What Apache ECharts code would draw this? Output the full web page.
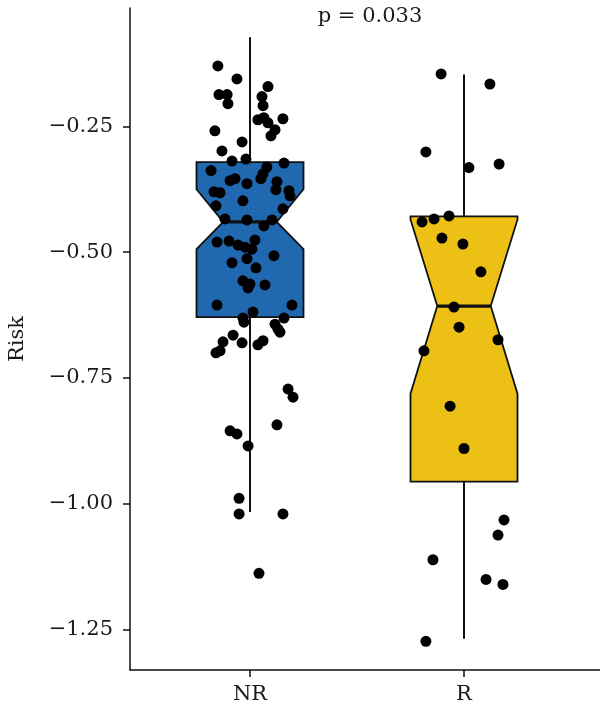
<!DOCTYPE html>
<html>
<head>
<meta charset="utf-8">
<script src="https://cdn.jsdelivr.net/npm/echarts@6/dist/echarts.min.js"></script>
<style>
html, body { margin: 0; padding: 0; background: #fff; }
#chart { width: 600px; height: 722px; }
</style>
</head>
<body>
<div id="chart"></div>
<script>
const groups = ['NR', 'R']
const boxColors = ['#2068B0', '#EDC016']
const yTicks = [-1.25, -1.0, -0.75, -0.5, -0.25]
const pLabel = 'p = 0.033'

// box stats: [lower whisker, Q1, median, Q3, upper whisker]
const nrBox = [-1.016, -0.629, -0.440, -0.321, -0.073]
const rBox = [-1.268, -0.956, -0.607, -0.429, -0.147]
// notch [lower, upper]
const nrNotch = [-0.494, -0.375]
const rNotch = [-0.781, -0.435]

// points (risk) and horizontal jitter (in category units)
const nrRisk = [
  -0.130, -0.156, -0.171, -0.187, -0.187, -0.205, -0.191, -0.209, -0.237, -0.233,
  -0.243, -0.235, -0.257, -0.269, -0.259, -0.281, -0.299, -0.319, -0.315, -0.323,
  -0.338, -0.331, -0.344, -0.354, -0.354, -0.358, -0.364, -0.360, -0.376, -0.380,
  -0.382, -0.378, -0.388, -0.398, -0.408, -0.414, -0.434, -0.436, -0.436, -0.448,
  -0.480, -0.478, -0.486, -0.476, -0.490, -0.494, -0.521, -0.513, -0.507, -0.531,
  -0.557, -0.563, -0.571, -0.565, -0.605, -0.605, -0.619, -0.631, -0.639, -0.631,
  -0.643, -0.653, -0.659, -0.665, -0.680, -0.678, -0.676, -0.684, -0.700, -0.696,
  -0.772, -0.788, -0.843, -0.855, -0.861, -0.885, -0.989, -1.020, -1.020, -1.138
]
const nrJitter = [
  -0.150, -0.061, 0.084, -0.145, -0.107, -0.103, 0.056, 0.061, 0.037, 0.065,
  0.084, 0.154, 0.117, 0.098, -0.164, -0.037, -0.131, -0.084, -0.019, 0.159,
  -0.182, 0.079, 0.061, 0.051, -0.070, -0.093, -0.014, 0.126, 0.121, -0.168,
  -0.140, 0.182, 0.187, -0.033, -0.159, 0.154, -0.117, -0.014, 0.103, 0.065,
  -0.154, -0.098, -0.056, 0.023, -0.023, 0.009, -0.084, -0.014, 0.112, 0.028,
  -0.033, 0.000, -0.009, 0.070, -0.154, 0.196, 0.014, -0.033, -0.028, 0.159,
  0.117, 0.131, 0.140, -0.079, -0.037, -0.126, 0.061, 0.037, -0.159, -0.140,
  0.178, 0.201, 0.126, -0.093, -0.061, -0.009, -0.051, -0.051, 0.154, 0.042
]
const rRisk = [
  -0.146, -0.166, -0.301, -0.332, -0.325, -0.440, -0.434, -0.428, -0.472, -0.484,
  -0.539, -0.609, -0.649, -0.674, -0.696, -0.806, -0.890, -1.032, -1.062, -1.111,
  -1.150, -1.160, -1.273
]
const rJitter = [
  -0.107, 0.121, -0.178, 0.023, 0.164, -0.196, -0.140, -0.070, -0.103, -0.005,
  0.079, -0.047, -0.023, 0.159, -0.187, -0.065, 0.000, 0.187, 0.159, -0.145,
  0.103, 0.182, -0.178
]

const textColor = '#1a1a1a'
const fontFamily = '"DejaVu Serif", "Liberation Serif", serif'

function renderBox(params, api) {
  const x = api.value(0)
  const lo = api.value(1), q1 = api.value(2), med = api.value(3), q3 = api.value(4), hi = api.value(5)
  const nLo = api.value(6), nHi = api.value(7)
  const hw = 0.25, nw = 0.125
  const p = (xx, yy) => api.coord([xx, yy])
  const poly = [
    p(x - hw, q3), p(x - hw, nHi), p(x - nw, med), p(x - hw, nLo), p(x - hw, q1),
    p(x + hw, q1), p(x + hw, nLo), p(x + nw, med), p(x + hw, nHi), p(x + hw, q3)
  ]
  const top = p(x, q3), up = p(x, hi), bot = p(x, q1), dn = p(x, lo)
  const m1 = p(x - nw, med), m2 = p(x + nw, med)
  const lineStyle = { stroke: '#111', lineWidth: 2 }
  return {
    type: 'group',
    children: [
      { type: 'line', shape: { x1: top[0], y1: top[1], x2: up[0], y2: up[1] }, style: lineStyle },
      { type: 'line', shape: { x1: bot[0], y1: bot[1], x2: dn[0], y2: dn[1] }, style: lineStyle },
      { type: 'polygon', shape: { points: poly }, style: { fill: boxColors[params.dataIndex], stroke: '#111', lineWidth: 1.8 } },
      { type: 'line', shape: { x1: m1[0], y1: m1[1], x2: m2[0], y2: m2[1] }, style: { stroke: '#111', lineWidth: 3.2 } }
    ]
  }
}

const chart = echarts.init(document.getElementById('chart'))

chart.setOption({
  animation: false,
  backgroundColor: '#fff',
  grid: { left: 130, right: 0, top: 8, bottom: 52, outerBoundsMode: 'none' },
  xAxis: {
    type: 'value',
    min: 0.4393,
    max: 2.6355,
    splitLine: { show: false },
    axisLine: { show: true, onZero: false, lineStyle: { color: '#111', width: 1.5 } },
    axisTick: { show: true, length: 7, customValues: [1, 2], lineStyle: { color: '#111', width: 1.5 } },
    axisLabel: {
      customValues: [1, 2],
      formatter: v => groups[Math.round(v) - 1],
      margin: 14,
      color: textColor,
      fontSize: 21,
      fontFamily: fontFamily
    }
  },
  yAxis: {
    type: 'value',
    min: -1.33,
    max: -0.015,
    name: 'Risk',
    nameLocation: 'middle',
    nameGap: 102,
    nameTextStyle: { color: textColor, fontSize: 21, fontFamily: fontFamily },
    splitLine: { show: false },
    axisLine: { show: true, onZero: false, lineStyle: { color: '#111', width: 1.5 } },
    axisTick: { show: true, length: 7, customValues: yTicks, lineStyle: { color: '#111', width: 1.5 } },
    axisLabel: {
      customValues: yTicks,
      formatter: v => (v < 0 ? '\u2212' : '') + Math.abs(v).toFixed(2),
      margin: 17,
      color: textColor,
      fontSize: 21,
      fontFamily: fontFamily
    }
  },
  graphic: [{
    type: 'text',
    x: 370,
    y: 17,
    style: {
      text: pLabel,
      fill: textColor,
      font: '21px ' + fontFamily,
      textAlign: 'center',
      textVerticalAlign: 'middle'
    }
  }],
  series: [
    {
      type: 'custom',
      renderItem: renderBox,
      encode: { x: 0, y: [1, 2, 3, 4, 5] },
      data: [
        [1].concat(nrBox, nrNotch),
        [2].concat(rBox, rNotch)
      ],
      z: 2
    },
    {
      type: 'scatter',
      symbolSize: 11,
      itemStyle: { color: '#000', opacity: 1 },
      data: nrRisk.map((v, i) => [1 + nrJitter[i], v]),
      z: 5
    },
    {
      type: 'scatter',
      symbolSize: 11,
      itemStyle: { color: '#000', opacity: 1 },
      data: rRisk.map((v, i) => [2 + rJitter[i], v]),
      z: 5
    }
  ]
})
</script>
</body>
</html>
